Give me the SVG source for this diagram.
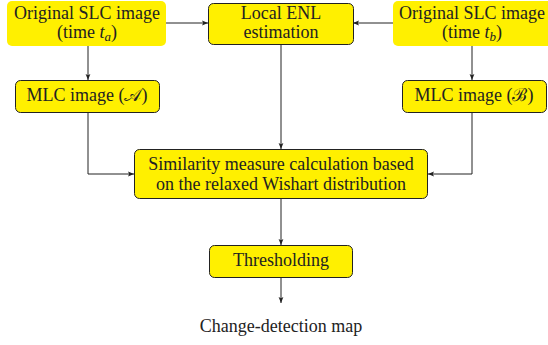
<svg xmlns="http://www.w3.org/2000/svg" width="548" height="345" viewBox="0 0 548 345">
<defs>
<marker id="ah" viewBox="0 0 6 6" refX="6" refY="3" markerWidth="6" markerHeight="6" markerUnits="userSpaceOnUse" orient="auto">
<path d="M0,0.6 L6,3 L0,5.4 L1.2,3 Z" fill="#222"/>
</marker>
<style>
.box{fill:#FFF000;stroke:#222;stroke-width:1}
.src{fill:#FFF000;stroke:none}
.t{font-family:"Liberation Serif","DejaVu Serif",serif;font-size:18px;fill:#222;text-anchor:middle}
.m{font-style:italic}
.c{fill:none;stroke:#222;stroke-width:1;marker-end:url(#ah)}
</style>
</defs>
<g id="connectors">
<path class="c" d="M88,46 V80"/>
<path class="c" d="M166,23 H208"/>
<path class="c" d="M393,23 H353"/>
<path class="c" d="M472,46 V80"/>
<path class="c" d="M281,45 V149"/>
<path class="c" d="M88,113 V174 H134"/>
<path class="c" d="M472,113 V174 H428"/>
<path class="c" d="M281,199 V245"/>
<path class="c" d="M281,278 V303"/>
</g>
<g id="slc-a">
<rect class="src" x="7" y="1" width="159" height="45" rx="5"/>
<text class="t" x="87" y="19">Original SLC image</text>
<text class="t" x="87" y="38">(time <tspan class="m">t</tspan><tspan class="m" font-size="13" dy="3">a</tspan><tspan dy="-3">)</tspan></text>
</g>
<g id="enl">
<rect class="box" x="208.5" y="3.5" width="145" height="41" rx="5"/>
<text class="t" x="281" y="19">Local ENL</text>
<text class="t" x="281" y="38">estimation</text>
</g>
<g id="slc-b">
<rect class="src" x="393" y="1" width="159" height="45" rx="5"/>
<text class="t" x="472" y="19">Original SLC image</text>
<text class="t" x="472" y="38">(time <tspan class="m">t</tspan><tspan class="m" font-size="13" dy="3">b</tspan><tspan dy="-3">)</tspan></text>
</g>
<g id="mlc-a">
<rect class="box" x="15.5" y="80.5" width="144" height="32" rx="5"/>
<text class="t" x="87" y="101">MLC image (𝒜)</text>
</g>
<g id="mlc-b">
<rect class="box" x="402.5" y="80.5" width="144" height="32" rx="5"/>
<text class="t" x="474" y="101">MLC image (ℬ)</text>
</g>
<g id="similarity">
<rect class="box" x="134.5" y="149.5" width="293" height="49" rx="5"/>
<text class="t" x="281" y="170">Similarity measure calculation based</text>
<text class="t" x="281" y="190">on the relaxed Wishart distribution</text>
</g>
<g id="threshold">
<rect class="box" x="209.5" y="245.5" width="143" height="32" rx="5"/>
<text class="t" x="281" y="266">Thresholding</text>
</g>
<g id="output">
<text class="t" x="281" y="332">Change-detection map</text>
</g>
</svg>
